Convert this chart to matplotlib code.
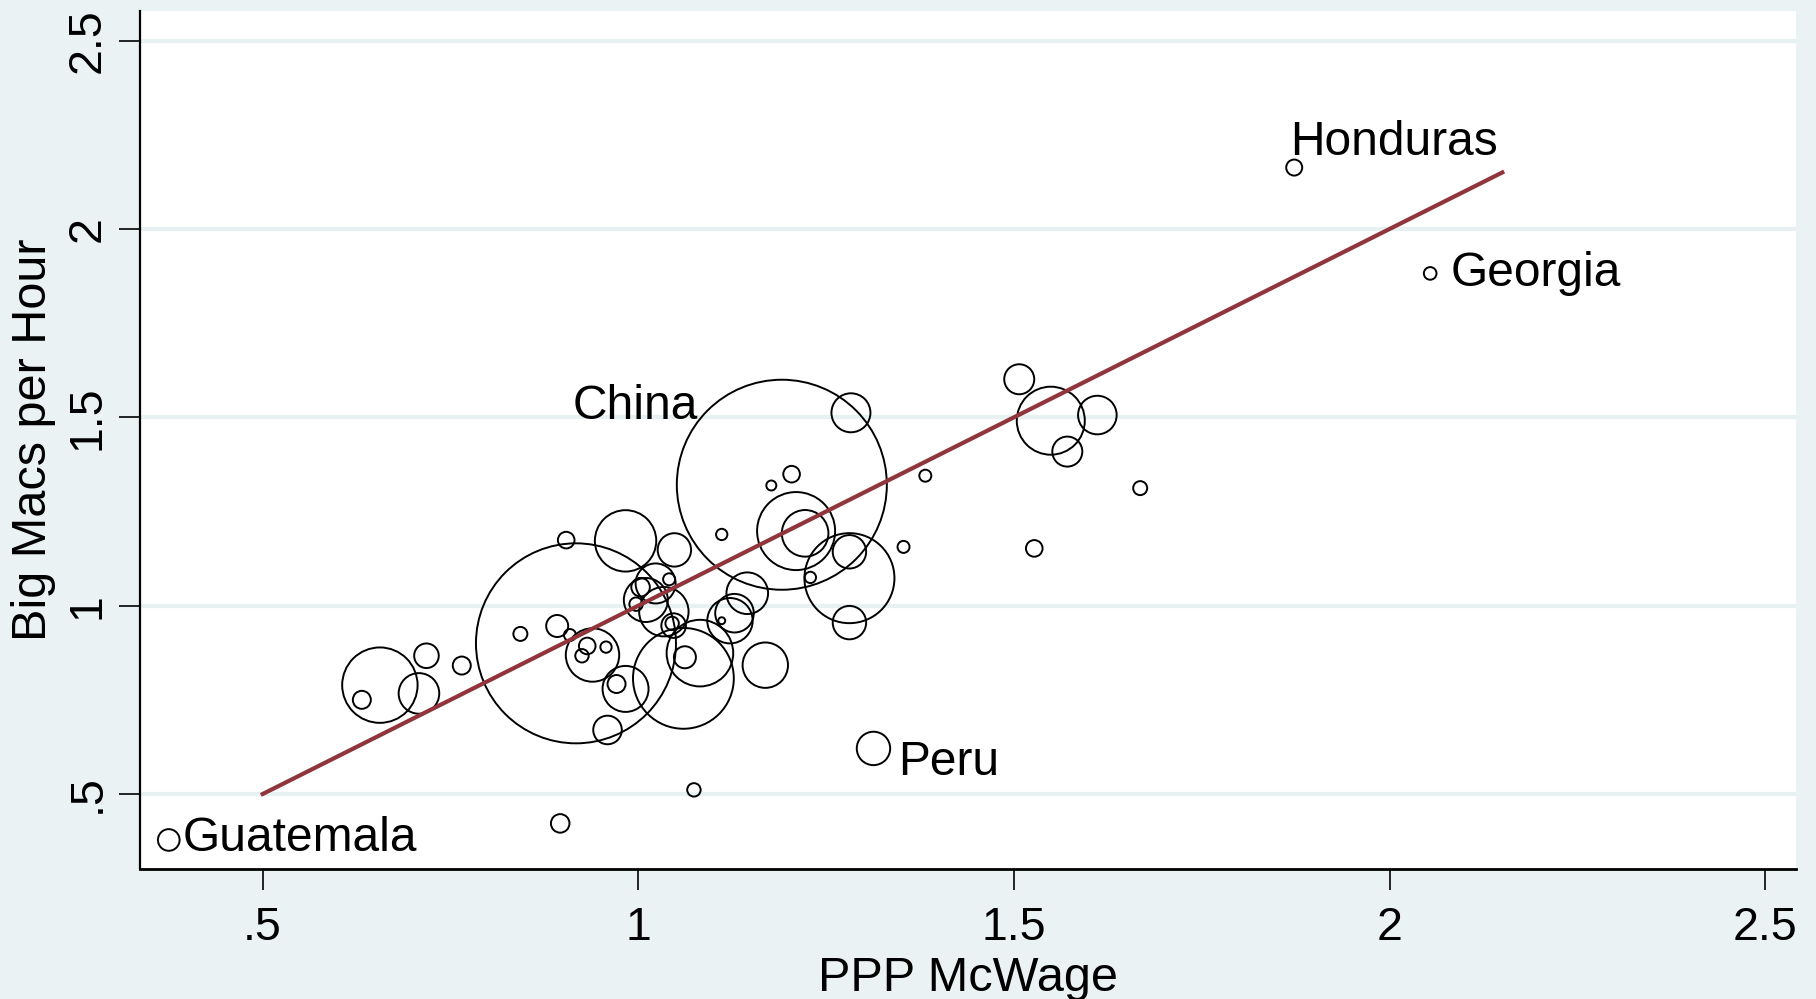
import matplotlib
matplotlib.use("Agg")
import matplotlib.pyplot as plt
import numpy as np

plt.rcParams['font.family'] = ['Liberation Sans', 'DejaVu Sans']

# McWage (PPP) vs Big Macs per hour, circles weighted by size
mcwage = [0.375, 1.873, 2.054, 1.191, 0.917, 1.313, 0.896, 1.074, 0.656, 0.632,
          0.718, 0.708, 0.765, 0.843, 0.892, 0.904, 0.909, 0.939, 0.932, 0.925,
          0.957, 0.983, 1.048, 1.023, 1.003, 1.041, 1.010, 0.997, 1.034, 1.047,
          1.045, 1.082, 1.060, 1.062, 0.983, 0.971, 0.959, 1.169, 1.111, 1.122,
          1.145, 1.128, 1.111, 1.222, 1.210, 1.281, 1.281, 1.229, 1.281, 1.283,
          1.204, 1.382, 1.353, 1.507, 1.549, 1.611, 1.571, 1.668, 1.527, 1.177]
bigmacs = [0.378, 2.163, 1.882, 1.321, 0.900, 0.621, 0.422, 0.511, 0.789, 0.750,
           0.867, 0.767, 0.841, 0.925, 0.946, 1.174, 0.922, 0.869, 0.893, 0.867,
           0.890, 1.172, 1.148, 1.059, 1.049, 1.070, 1.015, 1.004, 0.984, 0.947,
           0.953, 0.874, 0.807, 0.863, 0.779, 0.792, 0.670, 0.842, 1.189, 0.960,
           1.033, 0.980, 0.960, 1.192, 1.198, 1.143, 1.073, 1.075, 0.955, 1.512,
           1.349, 1.345, 1.156, 1.601, 1.491, 1.506, 1.409, 1.312, 1.152, 1.319]
peso = [11.7, 6.4, 4.0, 1102.5, 1000.0, 27.9, 8.6, 4.5, 142.1, 8.1,
        15.1, 41.2, 8.1, 4.9, 12.1, 6.9, 3.6, 71.3, 6.9, 4.5,
        3.2, 94.2, 27.9, 40.0, 8.6, 3.6, 48.4, 4.5, 61.0, 15.1,
        4.5, 110.9, 254.0, 12.1, 52.9, 8.1, 20.4, 51.5, 3.2, 51.5,
        43.3, 37.2, 1.2, 54.3, 152.1, 27.9, 202.5, 3.2, 27.9, 38.0,
        6.9, 3.6, 3.6, 22.5, 115.6, 37.2, 22.5, 4.9, 6.9, 2.5]

# etiquetas: pais, indice del punto
etiquetas = ['Guatemala', 'Honduras', 'Georgia', 'China', 'Peru']
idx_etiq = [0, 1, 2, 3, 5]
offsets = [(14, -11, 'left'), (-4, 13, 'left'), (20, -13, 'left'),
           (-84, 66, 'right'), (25, -27, 'left')]

# recta ajustada
fit_x = [0.5, 2.15]
fit_y = [0.5, 2.15]

xticks = [0.5, 1, 1.5, 2, 2.5]
xtick_labels = ['.5', '1', '1.5', '2', '2.5']
yticks = [0.5, 1, 1.5, 2, 2.5]
ytick_labels = ['.5', '1', '1.5', '2', '2.5']

bg = '#EAF2F3'
fig = plt.figure(figsize=(18.16, 9.99), dpi=100, facecolor=bg)
ax = fig.add_axes([0.07709, 0.12963, 0.91189, 0.85936])
ax.set_facecolor('white')

tam = np.array(peso) * 20.74
ax.scatter(mcwage, bigmacs, s=tam, facecolors='none', edgecolors='black',
           linewidths=1.4, zorder=3)
ax.plot(fit_x, fit_y, color='#90353B', lw=3.0, zorder=4)

for nombre, i, (dx, dy, ha) in zip(etiquetas, idx_etiq, offsets):
    ax.annotate(nombre, (mcwage[i], bigmacs[i]), xytext=(dx, dy),
                textcoords='offset pixels', ha=ha, va='baseline',
                fontsize=34.5, color='black', zorder=5)

ax.set_xlim(0.3367, 2.5409)
ax.set_ylim(0.2996, 2.5786)
ax.set_xticks(xticks)
ax.set_xticklabels(xtick_labels)
ax.set_yticks(yticks)
ax.set_yticklabels(ytick_labels, rotation=90, va='center')
ax.tick_params(axis='both', direction='out', length=15, width=1.2,
               labelsize=33.5, colors='black')
ax.tick_params(axis='x', pad=11)
ax.tick_params(axis='y', pad=7)

ax.grid(axis='y', color='#E8F1F2', lw=3)
ax.set_axisbelow(True)
for lado in ['top', 'right']:
    ax.spines[lado].set_visible(False)
ax.spines['left'].set_linewidth(1.6)
ax.spines['bottom'].set_linewidth(2.0)

ax.set_xlabel('PPP McWage', fontsize=35)
ax.set_ylabel('Big Macs per Hour', fontsize=35)
ax.xaxis.set_label_coords(0.5, -0.1008)
ax.yaxis.set_label_coords(-0.0507, 0.5)

fig.savefig('out.png', dpi=100, facecolor=bg)
